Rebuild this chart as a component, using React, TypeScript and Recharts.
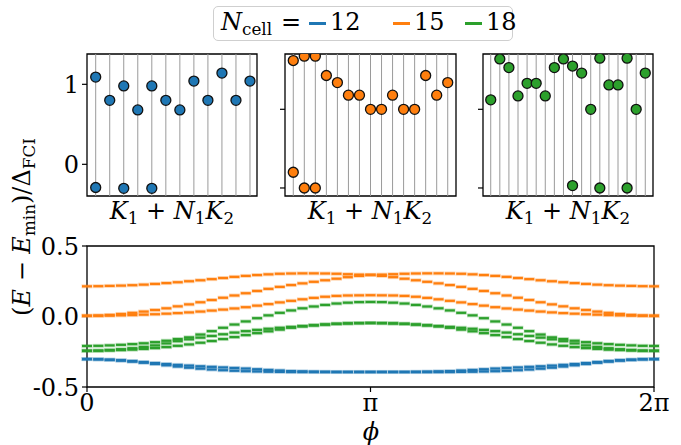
import React from 'react';
import { ScatterChart, Scatter, XAxis, YAxis, ReferenceLine, ReferenceArea } from 'recharts';

// ---------- colours / labels ----------
const C12 = '#1f77b4';
const C15 = '#ff7f0e';
const C18 = '#2ca02c';
const LEGEND_LABELS = ['12', '15', '18'];
const PHI_TICKS = [0, 25, 50];
const PHI_TICK_LABELS = ['0', 'π', '2π'];
const BOTTOM_Y_TICKS = [-0.5, 0, 0.5];
const TOP_Y_TICKS = [0, 1];

// ---------- top panels: momentum index K1+N1K2 and energies ----------
const N12_CATS = [0, 1, 2, 3, 4, 5, 6, 7, 8, 9, 10, 11];
const N12_K = [0, 0, 1, 2, 2, 3, 4, 4, 5, 6, 7, 8, 9, 10, 11];
const N12_E = [1.09, -0.29, 0.8, 0.98, -0.3, 0.68, 0.98, -0.3, 0.8, 0.68, 1.04, 0.8, 1.14, 0.8, 1.04];

const N15_CATS = [0, 1, 2, 3, 4, 5, 6, 7, 8, 9, 10, 11, 12, 13, 14];
const N15_K = [0, 0, 1, 1, 2, 2, 3, 4, 5, 6, 7, 8, 9, 10, 11, 12, 13, 14];
const N15_E = [1.62, 0.2, 1.675, 0, 1.675, 0, 1.43, 1.34, 1.18, 1.18, 1.0, 1.0, 1.18, 1.0, 1.0, 1.43, 1.18, 1.34];

const N18_CATS = [0, 1, 2, 3, 4, 5, 6, 7, 8, 9, 10, 11, 12, 13, 14, 15, 16, 17];
const N18_K = [0, 1, 2, 3, 4, 5, 6, 7, 8, 9, 9, 10, 11, 12, 12, 13, 14, 15, 15, 16, 17];
const N18_E = [1.12, 1.64, 1.53, 1.17, 1.33, 1.33, 1.17, 1.53, 1.64, 1.55, 0.03, 1.46, 1.0, 1.65, 0, 1.31, 1.31, 1.65, 0, 1.0, 1.46];

// ---------- bottom panel: spectral flow, 51 phi steps from 0 to 2pi ----------
const O15_A = [0.214,0.215,0.217,0.219,0.222,0.226,0.231,0.237,0.243,0.250,0.257,0.265,0.273,0.281,0.288,0.294,0.299,0.303,0.305,0.306,0.306,0.305,0.303,0.300,0.297,0.295,0.288,0.279,0.268,0.257,0.246,0.235,0.223,0.210,0.196,0.181,0.165,0.149,0.133,0.117,0.101,0.086,0.072,0.058,0.046,0.035,0.026,0.018,0.011,0.007,0.005];
const O15_B = [0.005,0.007,0.011,0.018,0.026,0.035,0.046,0.058,0.072,0.086,0.101,0.117,0.133,0.149,0.165,0.181,0.196,0.210,0.223,0.235,0.246,0.257,0.268,0.279,0.288,0.295,0.297,0.300,0.303,0.305,0.306,0.306,0.305,0.303,0.299,0.294,0.288,0.281,0.273,0.265,0.257,0.250,0.243,0.237,0.231,0.226,0.222,0.219,0.217,0.215,0.214];
const O15_C = [0.005,0.005,0.006,0.008,0.010,0.013,0.016,0.020,0.024,0.029,0.035,0.042,0.049,0.057,0.066,0.077,0.088,0.100,0.111,0.122,0.132,0.140,0.146,0.149,0.150,0.151,0.150,0.149,0.146,0.140,0.132,0.122,0.111,0.100,0.088,0.077,0.066,0.057,0.049,0.042,0.035,0.029,0.024,0.020,0.016,0.013,0.010,0.008,0.006,0.005,0.005];
const G18_A = [-0.209,-0.208,-0.205,-0.201,-0.196,-0.190,-0.182,-0.172,-0.160,-0.148,-0.128,-0.104,-0.080,-0.057,-0.035,-0.012,0.008,0.026,0.043,0.058,0.071,0.082,0.092,0.098,0.102,0.103,0.102,0.098,0.092,0.082,0.071,0.058,0.043,0.026,0.008,-0.012,-0.035,-0.057,-0.080,-0.104,-0.128,-0.148,-0.160,-0.172,-0.182,-0.190,-0.196,-0.201,-0.205,-0.208,-0.209];
const G18_B = [-0.243,-0.242,-0.238,-0.232,-0.225,-0.216,-0.205,-0.191,-0.175,-0.162,-0.150,-0.138,-0.126,-0.114,-0.104,-0.095,-0.087,-0.080,-0.074,-0.068,-0.062,-0.057,-0.052,-0.049,-0.047,-0.046,-0.047,-0.049,-0.052,-0.057,-0.062,-0.068,-0.074,-0.080,-0.087,-0.095,-0.104,-0.114,-0.126,-0.138,-0.150,-0.162,-0.175,-0.191,-0.205,-0.216,-0.225,-0.232,-0.238,-0.242,-0.243];
const G18_C = [-0.243,-0.243,-0.241,-0.238,-0.235,-0.230,-0.224,-0.217,-0.208,-0.198,-0.186,-0.174,-0.160,-0.146,-0.132,-0.118,-0.105,-0.093,-0.080,-0.070,-0.063,-0.057,-0.052,-0.049,-0.047,-0.046,-0.047,-0.049,-0.052,-0.057,-0.063,-0.070,-0.080,-0.093,-0.105,-0.118,-0.132,-0.146,-0.160,-0.174,-0.186,-0.198,-0.208,-0.217,-0.224,-0.230,-0.235,-0.238,-0.241,-0.243,-0.243];
const B12_A = [-0.302,-0.303,-0.306,-0.310,-0.316,-0.323,-0.330,-0.337,-0.343,-0.348,-0.353,-0.357,-0.361,-0.365,-0.369,-0.374,-0.379,-0.383,-0.387,-0.389,-0.391,-0.392,-0.393,-0.393,-0.393,-0.393,-0.393,-0.393,-0.393,-0.392,-0.391,-0.389,-0.387,-0.383,-0.379,-0.374,-0.369,-0.365,-0.361,-0.357,-0.353,-0.348,-0.343,-0.337,-0.330,-0.323,-0.316,-0.310,-0.306,-0.303,-0.302];
const B12_B = [-0.302,-0.304,-0.308,-0.313,-0.320,-0.328,-0.337,-0.346,-0.355,-0.363,-0.370,-0.376,-0.381,-0.385,-0.388,-0.390,-0.392,-0.393,-0.394,-0.394,-0.394,-0.394,-0.394,-0.394,-0.394,-0.394,-0.394,-0.394,-0.394,-0.394,-0.394,-0.394,-0.394,-0.393,-0.392,-0.390,-0.388,-0.385,-0.381,-0.376,-0.370,-0.363,-0.355,-0.346,-0.337,-0.328,-0.320,-0.313,-0.308,-0.304,-0.302];

const FONT = "'DejaVu Serif', serif";
const FS = 24;

const toPts = (vals: number[]) => vals.map((v, i) => ({ x: i, y: v }));
const zip = (ks: number[], es: number[]) => ks.map((k, i) => ({ x: k, y: es[i] }));

const Sub = ({ children }: { children: React.ReactNode }) => (
  <span style={{ fontSize: '0.7em', verticalAlign: '-0.28em', fontStyle: 'normal' }}>{children}</span>
);

const circleShape = (color: string) => (p: any) => {
  if (p.cx == null || p.cy == null) return <g />;
  return <circle cx={p.cx} cy={p.cy} r={5} fill={color} stroke="#111" strokeWidth={1.3} />;
};

const barShape = (color: string) => (p: any) => {
  if (p.cx == null || p.cy == null) return <g />;
  return (
    <g>
      <rect x={p.cx - 5.5} y={p.cy - 2} width={11} height={4} fill={color} fillOpacity={0.3} />
      <rect x={p.cx - 5} y={p.cy - 1.1} width={10} height={2.2} fill={color} />
    </g>
  );
};

type PanelProps = {
  left: number;
  width: number;
  cats: number[];
  ks: number[];
  es: number[];
  color: string;
  xDomain: [number, number];
  yDomain: [number, number];
  showLabels: boolean;
};

const TOP = 54;
const TOP_H = 142;
const YW = 40;
const TOP_PAD = 16;

function TopPanel({ left, width, cats, ks, es, color, xDomain, yDomain, showLabels }: PanelProps) {
  const data = zip(ks, es);
  return (
    <div style={{ position: 'absolute', left: left - YW, top: TOP - TOP_PAD }}>
      <ScatterChart width={YW + width + 4} height={TOP_PAD + TOP_H + 4} margin={{ top: TOP_PAD, right: 4, bottom: 4, left: 0 }}>
        <XAxis type="number" dataKey="x" domain={xDomain} hide allowDataOverflow />
        <YAxis
          type="number"
          dataKey="y"
          domain={yDomain}
          ticks={TOP_Y_TICKS}
          interval={0}
          width={YW}
          allowDataOverflow
          axisLine={false}
          tickSize={5}
          tickMargin={3}
          tickLine={{ stroke: '#000', strokeWidth: 1.2 }}
          tick={{ fontSize: FS, fill: '#000', fontFamily: FONT }}
          tickFormatter={(v: number) => (showLabels ? String(v) : '')}
        />
        {cats.map((c) => (
          <ReferenceLine key={c} x={c} stroke="#9a9a9a" strokeWidth={1} ifOverflow="visible" />
        ))}
        <Scatter data={data} isAnimationActive={false} shape={circleShape(color)} />
        <ReferenceArea
          x1={xDomain[0]}
          x2={xDomain[1]}
          y1={yDomain[0]}
          y2={yDomain[1]}
          fill="none"
          fillOpacity={0}
          stroke="#000"
          strokeWidth={1.3}
          ifOverflow="visible"
        />
      </ScatterChart>
    </div>
  );
}

const KLabel = ({ cx }: { cx: number }) => (
  <div
    style={{
      position: 'absolute',
      left: cx,
      top: 213,
      transform: 'translate(-50%, -50%)',
      fontSize: FS,
      fontFamily: FONT,
      whiteSpace: 'nowrap',
      lineHeight: 1,
    }}
  >
    <i>K</i>
    <Sub>1</Sub>
    {' + '}
    <i>N</i>
    <Sub>1</Sub>
    <i>K</i>
    <Sub>2</Sub>
  </div>
);

export default function App() {
  const BL = 87;
  const BW = 567;
  const BT = 246;
  const BH = 141;
  const BYW = 60;
  const BPAD = 20;
  const bottomSeries: [number[], string][] = [
    [O15_A, C15],
    [O15_B, C15],
    [O15_C, C15],
    [G18_A, C18],
    [G18_B, C18],
    [G18_C, C18],
    [B12_A, C12],
    [B12_B, C12],
  ];
  const legendItems = [
    { color: C12, lineLeft: 309, textLeft: 330, label: LEGEND_LABELS[0] },
    { color: C15, lineLeft: 393, textLeft: 414, label: LEGEND_LABELS[1] },
    { color: C18, lineLeft: 465, textLeft: 486, label: LEGEND_LABELS[2] },
  ];
  return (
    <div
      style={{
        position: 'absolute',
        left: 0,
        top: 0,
        width: 681,
        height: 445,
        background: '#fff',
        fontFamily: FONT,
        color: '#000',
        overflow: 'hidden',
      }}
    >
      {/* legend */}
      <div
        style={{
          position: 'absolute',
          left: 213,
          top: 6,
          width: 300,
          height: 35,
          boxSizing: 'border-box',
          border: '1.3px solid #cfcfcf',
          borderRadius: 5,
        }}
      />
      <div style={{ position: 'absolute', left: 221, top: 5, fontSize: FS, lineHeight: '34px', whiteSpace: 'nowrap' }}>
        <i>N</i>
        <Sub>cell</Sub>
      </div>
      <div style={{ position: 'absolute', left: 281, top: 5, fontSize: FS, lineHeight: '34px' }}>=</div>
      {legendItems.map((it) => (
        <React.Fragment key={it.label}>
          <div style={{ position: 'absolute', left: it.lineLeft, top: 22, width: 17, height: 3, background: it.color }} />
          <div style={{ position: 'absolute', left: it.textLeft, top: 5, fontSize: FS, lineHeight: '34px' }}>{it.label}</div>
        </React.Fragment>
      ))}

      {/* top panels */}
      <TopPanel left={87} width={170} cats={N12_CATS} ks={N12_K} es={N12_E} color={C12} xDomain={[-0.62, 11.5]} yDomain={[-0.396, 1.379]} showLabels />
      <TopPanel left={285} width={171} cats={N15_CATS} ks={N15_K} es={N15_E} color={C15} xDomain={[-0.75, 14.75]} yDomain={[-0.102, 1.703]} showLabels={false} />
      <TopPanel left={483} width={170} cats={N18_CATS} ks={N18_K} es={N18_E} color={C18} xDomain={[-0.85, 17.85]} yDomain={[-0.102, 1.703]} showLabels={false} />
      <KLabel cx={172} />
      <KLabel cx={370} />
      <KLabel cx={568} />

      {/* bottom panel */}
      <div style={{ position: 'absolute', left: BL - BYW, top: BT - BPAD }}>
        <ScatterChart width={BYW + BW + 26} height={BPAD + BH + 40} margin={{ top: BPAD, right: 26, bottom: 0, left: 0 }}>
          <XAxis
            type="number"
            dataKey="x"
            domain={[0, 50]}
            ticks={PHI_TICKS}
            interval={0}
            height={40}
            axisLine={false}
            tickSize={5}
            tickMargin={2}
            tickLine={{ stroke: '#000', strokeWidth: 1.2 }}
            tick={{ fontSize: FS, fill: '#000', fontFamily: FONT }}
            tickFormatter={(v: number) => PHI_TICK_LABELS[PHI_TICKS.indexOf(v)]}
          />
          <YAxis
            type="number"
            dataKey="y"
            domain={[-0.5, 0.5]}
            ticks={BOTTOM_Y_TICKS}
            interval={0}
            width={BYW}
            axisLine={false}
            tickSize={5}
            tickMargin={3}
            tickLine={{ stroke: '#000', strokeWidth: 1.2 }}
            tick={{ fontSize: FS, fill: '#000', fontFamily: FONT }}
            tickFormatter={(v: number) => v.toFixed(1)}
          />
          {bottomSeries.map(([vals, col], i) => (
            <Scatter key={i} data={toPts(vals)} isAnimationActive={false} shape={barShape(col)} />
          ))}
          <ReferenceArea x1={0} x2={50} y1={-0.5} y2={0.5} fill="none" fillOpacity={0} stroke="#000" strokeWidth={1.3} ifOverflow="visible" />
        </ScatterChart>
      </div>

      {/* phi label */}
      <div style={{ position: 'absolute', left: 371, top: 432, transform: 'translate(-50%, -50%)', fontSize: FS, fontStyle: 'italic', lineHeight: 1 }}>
        ϕ
      </div>

      {/* y label */}
      <div
        style={{
          position: 'absolute',
          left: 24,
          top: 227,
          transform: 'translate(-50%, -50%) rotate(-90deg)',
          fontSize: FS,
          whiteSpace: 'nowrap',
          lineHeight: 1,
        }}
      >
        (<i>E</i> − <i>E</i>
        <Sub>min</Sub>)/Δ<Sub>FCI</Sub>
      </div>
    </div>
  );
}
